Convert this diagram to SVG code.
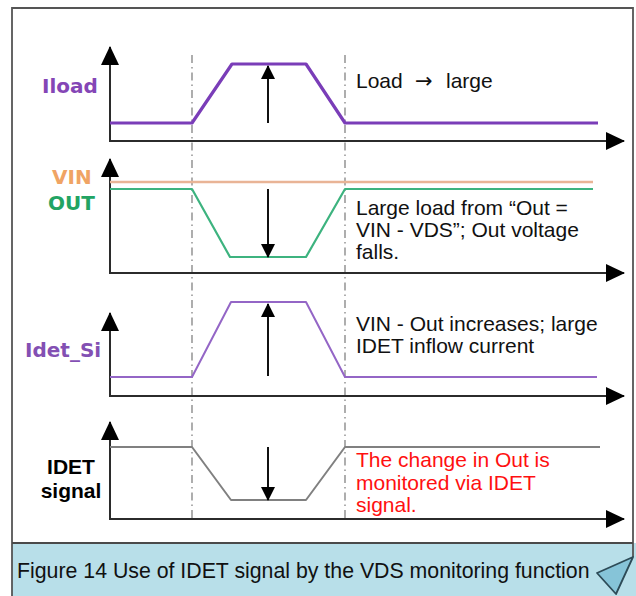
<svg xmlns="http://www.w3.org/2000/svg" width="636" height="596" viewBox="0 0 636 596">
<style>
.axis{fill:none;stroke:#2b2b2b;stroke-width:2}
.guide{fill:none;stroke:#9a9a9a;stroke-width:1.6;stroke-dasharray:8 4 1.5 4}
.arr{fill:none;stroke:#111;stroke-width:2}
.sig{fill:none;stroke-linejoin:round}
.lbl{font-family:"DejaVu Sans",Verdana,sans-serif;font-weight:bold;font-size:20px}
.note{font-family:"Liberation Sans",Arial,sans-serif;font-size:21px;fill:#111}
.red{fill:#ff1010}
.cap{font-family:"Liberation Sans",Arial,sans-serif;font-size:21.3px;fill:#111}
.blk{font-family:"Liberation Sans",Arial,sans-serif;font-weight:bold;font-size:21px;fill:#000}
.sym{font-family:"DejaVu Sans",sans-serif}
</style>
<defs>
<marker id="ah" viewBox="0 0 19 18" refX="18" refY="9" markerWidth="19" markerHeight="18" markerUnits="userSpaceOnUse" orient="auto-start-reverse">
<path d="M0,0 L19,9 L0,18 z" fill="#000"/>
</marker>
<marker id="sa" viewBox="0 0 14 14" refX="13" refY="7" markerWidth="14" markerHeight="14" markerUnits="userSpaceOnUse" orient="auto">
<path d="M0,0 L14,7 L0,14 z" fill="#000"/>
</marker>
</defs>
<rect x="0" y="0" width="636" height="596" fill="#fff"/>
<g id="frame">
<rect x="12" y="543" width="624" height="53" fill="#b8dfe9"/>
<path d="M12,596 L12,8 L633,8 L633,557" fill="none" stroke="#555" stroke-width="1.8"/>
<line x1="12" y1="543" x2="633" y2="543" stroke="#4a4a4a" stroke-width="2"/>
<polygon points="597,573 633,557 616,594" fill="#86c4d8" stroke="#2d4b57" stroke-width="1.8" stroke-linejoin="round"/>
</g>
<g id="guides">
<line class="guide" x1="192" y1="55" x2="192" y2="520"/>
<line class="guide" x1="345" y1="55" x2="345" y2="520"/>
</g>
<g id="panel-iload">
<path class="axis" d="M110,47 L110,141 L624,141" marker-start="url(#ah)" marker-end="url(#ah)"/>
<polyline class="sig" points="110,123 192,123 232,64 306,64 345,123 598,123" stroke="#7a3db8" stroke-width="3.2"/>
<text class="lbl" x="42" y="93" fill="#8446b6">Iload</text>
<text class="note" x="356" y="88">Load<tspan class="sym" x="415">→</tspan><tspan x="446">large</tspan></text>
</g>
<g id="panel-vin-out">
<path class="axis" d="M110,159 L110,273 L624,273" marker-start="url(#ah)" marker-end="url(#ah)"/>
<line x1="110" y1="182" x2="593" y2="182" stroke="#e9b496" stroke-width="2.4"/>
<polyline class="sig" points="110,189 192,189 230,257 306,257 345,189 593,189" stroke="#3db37f" stroke-width="2.2"/>
<text class="lbl" x="52" y="184" fill="#f0a464">VIN</text>
<text class="lbl" x="48" y="210" fill="#22a463">OUT</text>
<text class="note" x="356" y="215">Large load from “Out =</text>
<text class="note" x="356" y="237">VIN - VDS”; Out voltage</text>
<text class="note" x="356" y="259">falls.</text>
</g>
<g id="panel-idet-si">
<path class="axis" d="M110,313 L110,396 L624,396" marker-start="url(#ah)" marker-end="url(#ah)"/>
<polyline class="sig" points="110,377 192,377 231,302 306,302 345,377 597,377" stroke="#9466c6" stroke-width="2"/>
<text class="lbl" x="25" y="357" fill="#8350b3">Idet_Si</text>
<text class="note" x="356" y="331">VIN - Out increases; large</text>
<text class="note" x="356" y="353">IDET inflow current</text>
</g>
<g id="panel-idet-signal">
<path class="axis" d="M110,422 L110,519 L624,519" marker-start="url(#ah)" marker-end="url(#ah)"/>
<polyline class="sig" points="110,447 192,447 231,500 306,500 345,447 600,447" stroke="#808080" stroke-width="2"/>
<text class="blk" x="71" y="474" text-anchor="middle">IDET</text>
<text class="blk" x="71" y="498" text-anchor="middle">signal</text>
<text class="note red" x="356" y="467">The change in Out is</text>
<text class="note red" x="356" y="490">monitored via IDET</text>
<text class="note red" x="356" y="512">signal.</text>
</g>
<g id="connectors">
<line class="arr" x1="268" y1="123" x2="268" y2="66" marker-end="url(#sa)"/>
<line class="arr" x1="268" y1="189" x2="268" y2="257" marker-end="url(#sa)"/>
<line class="arr" x1="268" y1="376" x2="268" y2="304" marker-end="url(#sa)"/>
<line class="arr" x1="268" y1="447" x2="268" y2="500" marker-end="url(#sa)"/>
</g>
<g id="caption">
<text class="cap" x="17" y="578">Figure 14 Use of IDET signal by the VDS monitoring function</text>
</g>
</svg>
